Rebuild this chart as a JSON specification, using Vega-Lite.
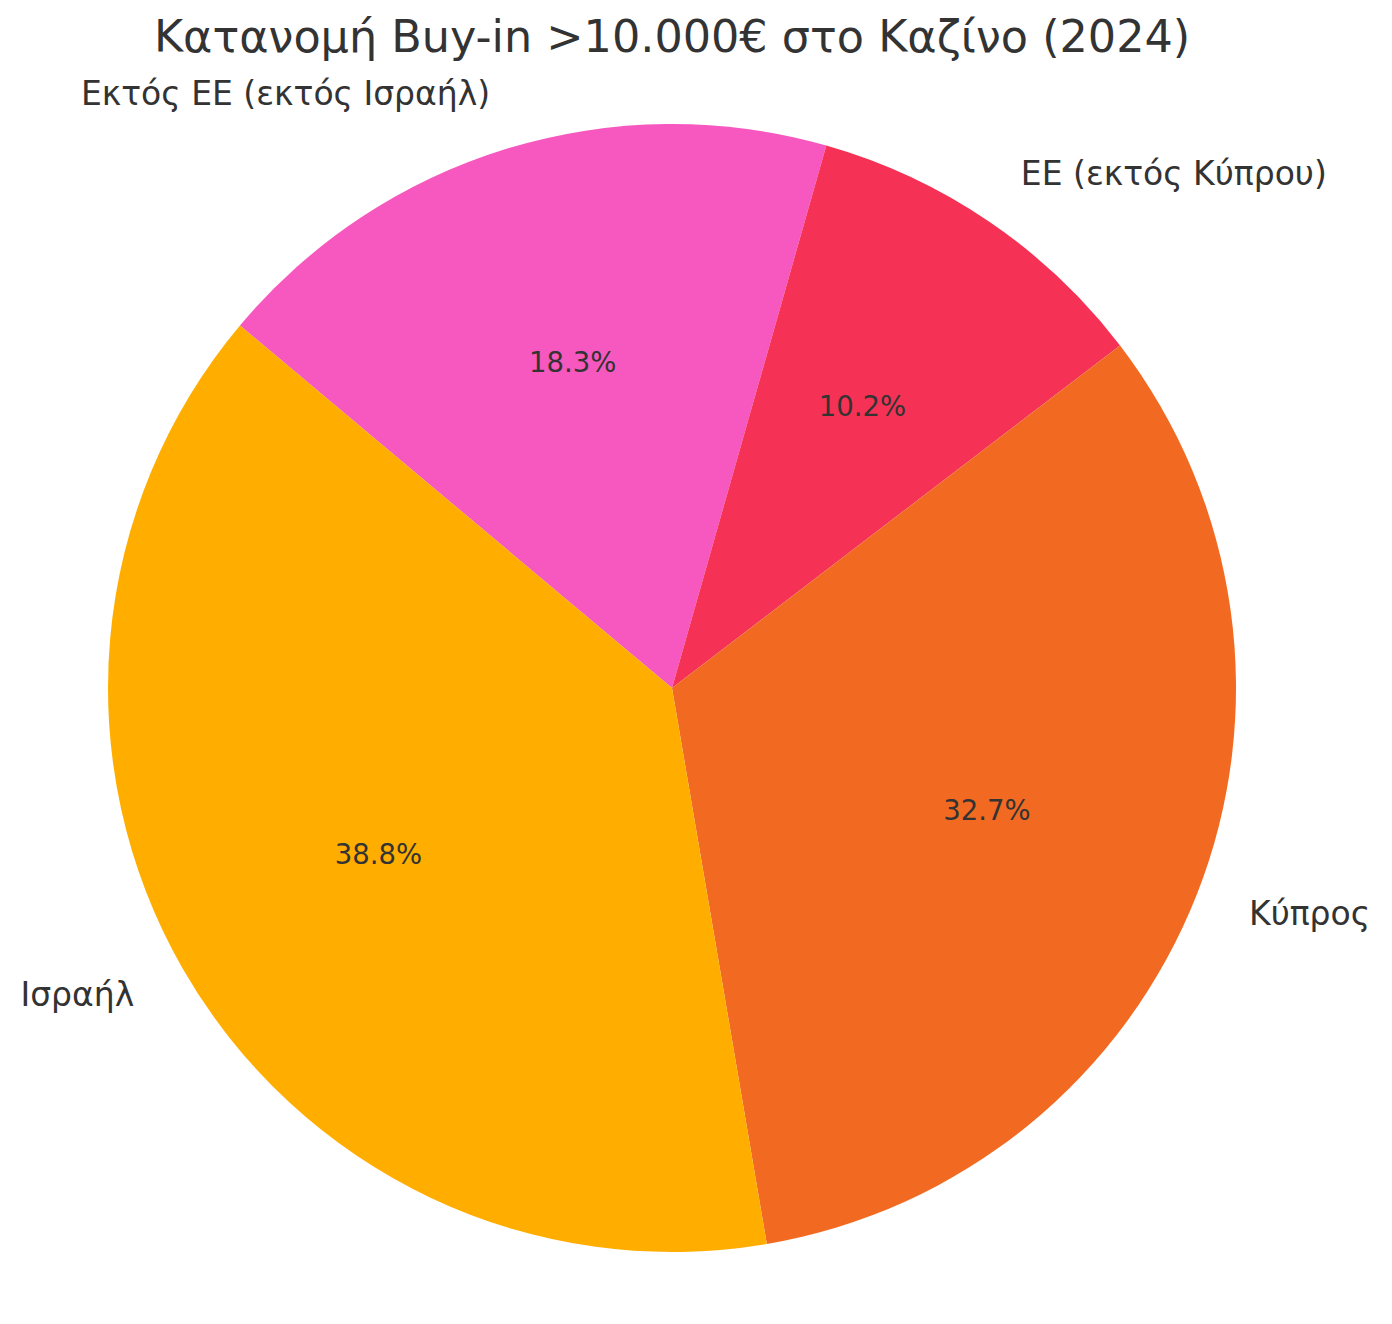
{
  "$schema": "https://vega.github.io/schema/vega-lite/v6.json",
  "autosize": "none",
  "width": 1344,
  "height": 1248,
  "padding": {"left": 0, "top": 64, "right": 48, "bottom": 12},
  "background": "white",
  "config": {"view": {"stroke": null}, "font": "DejaVu Sans"},
  "title": {"text": "Κατανομή Buy-in >10.000€ στο Καζίνο (2024)", "font": "DejaVu Sans", "fontSize": 44.5, "fontWeight": "normal", "color": "#333333", "anchor": "middle", "offset": 3},
  "data": {"values": [
    {"region": "Εκτός ΕΕ (εκτός Ισραήλ)", "share": 0.183},
    {"region": "ΕΕ (εκτός Κύπρου)", "share": 0.102},
    {"region": "Κύπρος", "share": 0.327},
    {"region": "Ισραήλ", "share": 0.388}
  ]},
  "transform": [{"window": [{"op": "row_number", "as": "idx"}]}],
  "encoding": {
    "theta": {"field": "share", "type": "quantitative", "stack": true, "scale": {"range": [-0.87266, 5.41053]}},
    "order": {"field": "idx", "type": "quantitative", "sort": "ascending"}
  },
  "layer": [
    {
      "mark": {"type": "arc", "radius": 564},
      "encoding": {
        "color": {"field": "region", "type": "nominal", "legend": null,
          "scale": {"domain": ["Ισραήλ", "Κύπρος", "ΕΕ (εκτός Κύπρου)", "Εκτός ΕΕ (εκτός Ισραήλ)"],
                    "range": ["#FFAE00", "#F26A22", "#F53255", "#F758BF"]}}
      }
    },
    {
      "mark": {"type": "text", "radius": 338.4, "fontSize": 27.5, "color": "#333333", "align": "center", "baseline": "middle"},
      "encoding": {"text": {"field": "share", "type": "quantitative", "format": ".1%"}}
    },
    {
      "mark": {"type": "text", "radius": 620, "fontSize": 33, "color": "#333333", "align": "left", "baseline": "middle"},
      "encoding": {"text": {"condition": {"test": "datum.region === 'Κύπρος' || datum.region === 'ΕΕ (εκτός Κύπρου)'", "field": "region"}, "value": ""}}
    },
    {
      "mark": {"type": "text", "radius": 620, "fontSize": 33, "color": "#333333", "align": "right", "baseline": "middle"},
      "encoding": {"text": {"condition": {"test": "datum.region === 'Ισραήλ' || datum.region === 'Εκτός ΕΕ (εκτός Ισραήλ)'", "field": "region"}, "value": ""}}
    }
  ]
}
